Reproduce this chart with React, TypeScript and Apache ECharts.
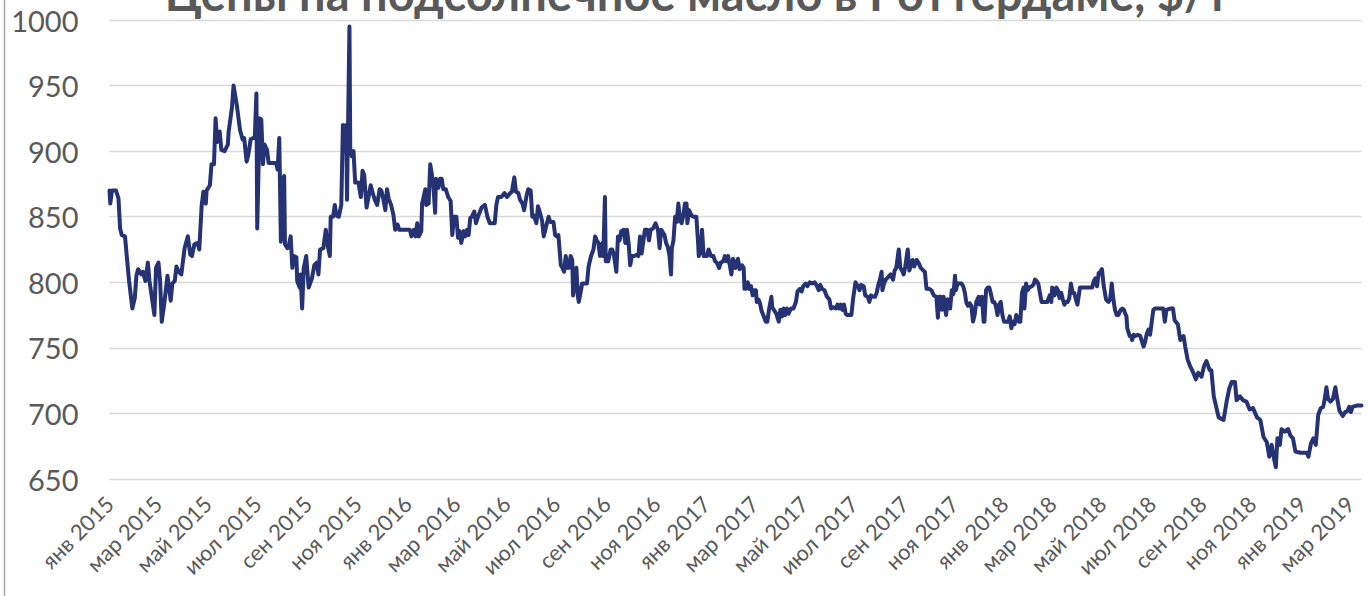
import React, { useEffect, useRef } from "react";
import * as echarts from "echarts";

const chartTitle = "Цены на подсолнечное масло в Роттердаме, $/т";
const axisStart = "2015-01-01";
const axisEnd = "2019-03-15";
const yMin = 650;
const yMax = 1000;
const yStep = 50;
const monthNames = ["янв", "фев", "мар", "апр", "май", "июн", "июл", "авг", "сен", "окт", "ноя", "дек"];
const labelMonths = [1, 3, 5, 7, 9, 11];

const prices2015: [string, number][] = [
  ["2015-01-01", 870], ["2015-01-02", 860], ["2015-01-04", 870], ["2015-01-09", 870], ["2015-01-12", 864],
  ["2015-01-14", 841], ["2015-01-16", 836], ["2015-01-20", 835], ["2015-01-22", 821], ["2015-01-25", 801],
  ["2015-01-29", 780], ["2015-02-01", 788], ["2015-02-03", 805], ["2015-02-05", 810], ["2015-02-09", 806],
  ["2015-02-11", 808], ["2015-02-14", 801], ["2015-02-17", 815], ["2015-02-19", 801], ["2015-02-22", 788],
  ["2015-02-25", 775], ["2015-02-27", 811], ["2015-03-02", 815], ["2015-03-04", 801], ["2015-03-06", 770],
  ["2015-03-09", 783], ["2015-03-13", 805], ["2015-03-15", 796], ["2015-03-17", 786], ["2015-03-19", 799],
  ["2015-03-22", 801], ["2015-03-24", 812], ["2015-03-27", 808], ["2015-03-30", 806], ["2015-04-03", 826],
  ["2015-04-07", 835], ["2015-04-10", 821], ["2015-04-12", 820], ["2015-04-15", 829], ["2015-04-19", 830],
  ["2015-04-21", 825], ["2015-04-24", 859], ["2015-04-26", 869], ["2015-04-29", 860], ["2015-04-30", 870],
  ["2015-05-04", 874], ["2015-05-06", 890], ["2015-05-09", 890], ["2015-05-11", 925], ["2015-05-13", 907],
  ["2015-05-16", 915], ["2015-05-18", 901], ["2015-05-22", 900], ["2015-05-26", 905], ["2015-05-27", 915],
  ["2015-05-31", 933], ["2015-06-02", 950], ["2015-06-06", 935], ["2015-06-10", 916], ["2015-06-13", 909],
  ["2015-06-15", 910], ["2015-06-18", 892], ["2015-06-20", 897], ["2015-06-23", 909], ["2015-06-26", 910],
  ["2015-06-28", 910], ["2015-06-30", 944], ["2015-07-01", 841], ["2015-07-03", 897], ["2015-07-04", 925],
  ["2015-07-06", 924], ["2015-07-08", 890], ["2015-07-10", 905], ["2015-07-13", 901], ["2015-07-15", 891],
  ["2015-07-24", 891], ["2015-07-26", 886], ["2015-07-28", 910], ["2015-07-30", 831], ["2015-08-01", 879],
  ["2015-08-03", 881], ["2015-08-04", 829], ["2015-08-07", 826], ["2015-08-09", 829], ["2015-08-11", 835],
  ["2015-08-13", 811], ["2015-08-15", 820], ["2015-08-18", 819], ["2015-08-19", 801], ["2015-08-22", 796],
  ["2015-08-23", 806], ["2015-08-25", 780], ["2015-08-27", 811], ["2015-08-30", 820], ["2015-09-02", 796],
  ["2015-09-06", 803], ["2015-09-09", 813], ["2015-09-12", 815], ["2015-09-14", 806], ["2015-09-16", 825],
  ["2015-09-20", 826], ["2015-09-23", 840], ["2015-09-25", 829], ["2015-09-28", 820], ["2015-09-29", 850],
  ["2015-10-02", 850], ["2015-10-04", 859], ["2015-10-06", 851], ["2015-10-09", 850], ["2015-10-12", 859],
  ["2015-10-14", 920], ["2015-10-16", 900], ["2015-10-18", 920], ["2015-10-19", 863], ["2015-10-22", 995],
  ["2015-10-23", 901], ["2015-10-25", 896], ["2015-10-27", 900], ["2015-10-29", 876], ["2015-11-02", 876],
  ["2015-11-05", 865], ["2015-11-07", 885], ["2015-11-09", 882], ["2015-11-12", 857], ["2015-11-15", 867],
  ["2015-11-17", 874], ["2015-11-20", 867], ["2015-11-22", 863], ["2015-11-25", 859], ["2015-11-28", 871],
  ["2015-11-30", 870], ["2015-12-02", 865], ["2015-12-05", 855], ["2015-12-07", 871], ["2015-12-09", 864],
  ["2015-12-12", 859], ["2015-12-15", 851], ["2015-12-17", 840], ["2015-12-20", 844], ["2015-12-22", 840],
  ["2015-12-29", 840],
];

const prices2016: [string, number][] = [
  ["2016-01-04", 840], ["2016-01-06", 835], ["2016-01-09", 840], ["2016-01-11", 835], ["2016-01-13", 845],
  ["2016-01-15", 835], ["2016-01-18", 839], ["2016-01-19", 860], ["2016-01-23", 871], ["2016-01-24", 859],
  ["2016-01-27", 860], ["2016-01-29", 890], ["2016-01-31", 882], ["2016-02-02", 872], ["2016-02-04", 853],
  ["2016-02-05", 879], ["2016-02-08", 872], ["2016-02-10", 879], ["2016-02-12", 879], ["2016-02-14", 871],
  ["2016-02-17", 871], ["2016-02-20", 865], ["2016-02-23", 862], ["2016-02-25", 836], ["2016-02-27", 850],
  ["2016-03-01", 850], ["2016-03-03", 834], ["2016-03-05", 839], ["2016-03-07", 830], ["2016-03-10", 839],
  ["2016-03-12", 835], ["2016-03-14", 840], ["2016-03-16", 836], ["2016-03-18", 849], ["2016-03-20", 850],
  ["2016-03-23", 854], ["2016-03-25", 845], ["2016-03-28", 851], ["2016-04-01", 857], ["2016-04-05", 859],
  ["2016-04-08", 850], ["2016-04-11", 845], ["2016-04-17", 845], ["2016-04-19", 859], ["2016-04-21", 865],
  ["2016-04-25", 865], ["2016-04-29", 868], ["2016-05-02", 865], ["2016-05-06", 868], ["2016-05-08", 869],
  ["2016-05-11", 880], ["2016-05-13", 869], ["2016-05-16", 868], ["2016-05-18", 863], ["2016-05-21", 860],
  ["2016-05-23", 855], ["2016-05-26", 866], ["2016-05-28", 871], ["2016-05-31", 870], ["2016-06-02", 850],
  ["2016-06-04", 851], ["2016-06-07", 845], ["2016-06-09", 858], ["2016-06-11", 854], ["2016-06-14", 847],
  ["2016-06-16", 835], ["2016-06-18", 840], ["2016-06-22", 850], ["2016-06-24", 846], ["2016-06-28", 846],
  ["2016-06-30", 836], ["2016-07-02", 835], ["2016-07-04", 836], ["2016-07-07", 813], ["2016-07-09", 811],
  ["2016-07-11", 808], ["2016-07-13", 820], ["2016-07-15", 811], ["2016-07-17", 811], ["2016-07-19", 820],
  ["2016-07-21", 817], ["2016-07-22", 790], ["2016-07-24", 797], ["2016-07-26", 811], ["2016-07-28", 789],
  ["2016-07-29", 785], ["2016-08-01", 795], ["2016-08-02", 799], ["2016-08-08", 799], ["2016-08-10", 812],
  ["2016-08-13", 820], ["2016-08-16", 825], ["2016-08-18", 835], ["2016-08-20", 832], ["2016-08-22", 830],
  ["2016-08-24", 820], ["2016-08-27", 830], ["2016-08-28", 820], ["2016-08-30", 865], ["2016-08-31", 816],
  ["2016-09-03", 816], ["2016-09-06", 825], ["2016-09-08", 825], ["2016-09-10", 821], ["2016-09-13", 808],
  ["2016-09-15", 835], ["2016-09-17", 832], ["2016-09-19", 839], ["2016-09-22", 840], ["2016-09-24", 830],
  ["2016-09-26", 840], ["2016-09-28", 830], ["2016-09-30", 813], ["2016-10-02", 820], ["2016-10-05", 820],
  ["2016-10-08", 821], ["2016-10-10", 820], ["2016-10-12", 835], ["2016-10-14", 822], ["2016-10-16", 831],
  ["2016-10-18", 840], ["2016-10-21", 840], ["2016-10-23", 832], ["2016-10-25", 840], ["2016-10-28", 841],
  ["2016-10-31", 845], ["2016-11-03", 840], ["2016-11-05", 826], ["2016-11-07", 840], ["2016-11-11", 836],
  ["2016-11-13", 830], ["2016-11-15", 827], ["2016-11-17", 821], ["2016-11-19", 806], ["2016-11-20", 826],
  ["2016-11-22", 832], ["2016-11-24", 850], ["2016-11-26", 846], ["2016-11-28", 860], ["2016-11-30", 847],
  ["2016-12-02", 845], ["2016-12-04", 851], ["2016-12-06", 860], ["2016-12-08", 860], ["2016-12-09", 845],
  ["2016-12-11", 855], ["2016-12-14", 851], ["2016-12-16", 850], ["2016-12-20", 850], ["2016-12-22", 832],
  ["2016-12-23", 820], ["2016-12-26", 825], ["2016-12-27", 840], ["2016-12-29", 820],
];

const prices2017: [string, number][] = [
  ["2017-01-02", 820], ["2017-01-04", 825], ["2017-01-07", 820], ["2017-01-10", 820], ["2017-01-12", 816],
  ["2017-01-14", 815], ["2017-01-17", 811], ["2017-01-19", 815], ["2017-01-22", 816], ["2017-01-24", 820],
  ["2017-01-26", 816], ["2017-01-28", 820], ["2017-01-30", 813], ["2017-02-01", 806], ["2017-02-03", 818],
  ["2017-02-06", 811], ["2017-02-09", 818], ["2017-02-11", 810], ["2017-02-14", 813], ["2017-02-16", 811],
  ["2017-02-17", 795], ["2017-02-19", 795], ["2017-02-21", 800], ["2017-02-23", 795], ["2017-02-25", 797],
  ["2017-02-27", 790], ["2017-03-01", 794], ["2017-03-03", 794], ["2017-03-04", 785], ["2017-03-06", 787],
  ["2017-03-08", 784], ["2017-03-10", 778], ["2017-03-12", 775], ["2017-03-15", 770], ["2017-03-17", 770],
  ["2017-03-19", 779], ["2017-03-22", 789], ["2017-03-23", 781], ["2017-03-26", 778], ["2017-03-28", 776],
  ["2017-03-31", 770], ["2017-04-02", 779], ["2017-04-04", 774], ["2017-04-06", 780], ["2017-04-08", 775],
  ["2017-04-10", 780], ["2017-04-12", 776], ["2017-04-15", 780], ["2017-04-18", 780], ["2017-04-21", 785],
  ["2017-04-23", 793], ["2017-04-26", 795], ["2017-04-28", 793], ["2017-04-30", 797], ["2017-05-03", 799],
  ["2017-05-05", 797], ["2017-05-08", 800], ["2017-05-11", 799], ["2017-05-14", 800], ["2017-05-16", 798],
  ["2017-05-19", 794], ["2017-05-21", 798], ["2017-05-23", 795], ["2017-05-26", 794], ["2017-05-29", 789],
  ["2017-06-01", 787], ["2017-06-03", 780], ["2017-06-06", 781], ["2017-06-09", 780], ["2017-06-11", 783],
  ["2017-06-13", 780], ["2017-06-15", 783], ["2017-06-17", 779], ["2017-06-19", 783], ["2017-06-21", 776],
  ["2017-06-23", 775], ["2017-06-28", 775], ["2017-06-30", 787], ["2017-07-03", 800], ["2017-07-06", 797],
  ["2017-07-08", 794], ["2017-07-10", 798], ["2017-07-13", 797], ["2017-07-15", 790], ["2017-07-18", 789],
  ["2017-07-20", 785], ["2017-07-22", 790], ["2017-07-25", 789], ["2017-07-27", 789], ["2017-07-29", 792],
  ["2017-07-31", 798], ["2017-08-02", 802], ["2017-08-04", 808], ["2017-08-05", 794], ["2017-08-07", 799],
  ["2017-08-09", 802], ["2017-08-12", 804], ["2017-08-15", 806], ["2017-08-18", 802], ["2017-08-20", 809],
  ["2017-08-22", 811], ["2017-08-25", 825], ["2017-08-27", 811], ["2017-08-29", 809], ["2017-08-31", 806],
  ["2017-09-02", 812], ["2017-09-05", 825], ["2017-09-07", 809], ["2017-09-09", 813], ["2017-09-11", 817],
  ["2017-09-13", 812], ["2017-09-16", 817], ["2017-09-19", 814], ["2017-09-21", 811], ["2017-09-24", 809],
  ["2017-09-26", 808], ["2017-09-28", 795], ["2017-10-01", 795], ["2017-10-04", 794], ["2017-10-07", 790],
  ["2017-10-10", 789], ["2017-10-12", 773], ["2017-10-13", 789], ["2017-10-16", 789], ["2017-10-17", 779],
  ["2017-10-19", 789], ["2017-10-22", 775], ["2017-10-24", 787], ["2017-10-27", 780], ["2017-10-29", 794],
  ["2017-10-31", 791], ["2017-11-02", 805], ["2017-11-03", 794], ["2017-11-05", 799], ["2017-11-10", 799],
  ["2017-11-12", 797], ["2017-11-14", 792], ["2017-11-16", 784], ["2017-11-18", 782], ["2017-11-20", 784],
  ["2017-11-22", 782], ["2017-11-24", 770], ["2017-11-26", 775], ["2017-11-28", 785], ["2017-12-01", 789],
  ["2017-12-02", 783], ["2017-12-05", 789], ["2017-12-07", 770], ["2017-12-08", 770], ["2017-12-10", 794],
  ["2017-12-12", 796], ["2017-12-14", 796], ["2017-12-16", 791], ["2017-12-18", 785], ["2017-12-20", 785],
  ["2017-12-22", 782], ["2017-12-24", 775], ["2017-12-26", 783], ["2017-12-28", 785], ["2017-12-30", 775],
];

const prices2018: [string, number][] = [
  ["2018-01-01", 770], ["2018-01-06", 770], ["2018-01-08", 774], ["2018-01-10", 765], ["2018-01-12", 770],
  ["2018-01-14", 768], ["2018-01-16", 775], ["2018-01-19", 770], ["2018-01-21", 770], ["2018-01-23", 792],
  ["2018-01-25", 796], ["2018-01-26", 780], ["2018-01-28", 799], ["2018-01-30", 794], ["2018-02-01", 796],
  ["2018-02-04", 797], ["2018-02-06", 798], ["2018-02-08", 802], ["2018-02-10", 801], ["2018-02-12", 799],
  ["2018-02-14", 792], ["2018-02-16", 785], ["2018-02-23", 785], ["2018-02-26", 790], ["2018-02-28", 785],
  ["2018-03-01", 796], ["2018-03-04", 790], ["2018-03-06", 796], ["2018-03-08", 794], ["2018-03-10", 788],
  ["2018-03-12", 792], ["2018-03-14", 787], ["2018-03-16", 783], ["2018-03-18", 785], ["2018-03-20", 785],
  ["2018-03-22", 788], ["2018-03-24", 799], ["2018-03-26", 792], ["2018-03-28", 792], ["2018-03-30", 787],
  ["2018-04-01", 783], ["2018-04-04", 796], ["2018-04-19", 796], ["2018-04-21", 801], ["2018-04-23", 803],
  ["2018-04-25", 797], ["2018-04-27", 807], ["2018-04-29", 808], ["2018-05-01", 810], ["2018-05-03", 798],
  ["2018-05-06", 787], ["2018-05-09", 785], ["2018-05-11", 787], ["2018-05-13", 799], ["2018-05-15", 787],
  ["2018-05-17", 779], ["2018-05-19", 775], ["2018-05-21", 775], ["2018-05-24", 779], ["2018-05-26", 780],
  ["2018-05-28", 779], ["2018-05-29", 777], ["2018-05-31", 774], ["2018-06-01", 765], ["2018-06-04", 759],
  ["2018-06-06", 759], ["2018-06-07", 756], ["2018-06-09", 760], ["2018-06-11", 759], ["2018-06-14", 760],
  ["2018-06-17", 759], ["2018-06-19", 755], ["2018-06-21", 751], ["2018-06-23", 755], ["2018-06-25", 761],
  ["2018-06-27", 764], ["2018-06-29", 760], ["2018-07-01", 770], ["2018-07-03", 779], ["2018-07-05", 780],
  ["2018-07-15", 780], ["2018-07-17", 770], ["2018-07-19", 779], ["2018-07-24", 780], ["2018-07-27", 780],
  ["2018-07-29", 771], ["2018-08-02", 768], ["2018-08-05", 756], ["2018-08-09", 759], ["2018-08-11", 751],
  ["2018-08-14", 741], ["2018-08-17", 736], ["2018-08-21", 731], ["2018-08-24", 726], ["2018-08-27", 731],
  ["2018-08-31", 728], ["2018-09-03", 736], ["2018-09-06", 740], ["2018-09-10", 733], ["2018-09-12", 733],
  ["2018-09-15", 713], ["2018-09-21", 697], ["2018-09-27", 695], ["2018-10-01", 710], ["2018-10-04", 719],
  ["2018-10-07", 724], ["2018-10-11", 724], ["2018-10-13", 710], ["2018-10-17", 713], ["2018-10-21", 710],
  ["2018-10-25", 709], ["2018-10-29", 703], ["2018-11-02", 704], ["2018-11-07", 697], ["2018-11-11", 695],
  ["2018-11-15", 682], ["2018-11-19", 678], ["2018-11-22", 667], ["2018-11-25", 676], ["2018-11-27", 668],
  ["2018-11-30", 659], ["2018-12-02", 681], ["2018-12-05", 676], ["2018-12-07", 688], ["2018-12-11", 686],
  ["2018-12-15", 688], ["2018-12-18", 683], ["2018-12-21", 681], ["2018-12-24", 671], ["2018-12-30", 670],
];

const prices2019: [string, number][] = [
  ["2019-01-07", 670], ["2019-01-09", 667], ["2019-01-12", 677], ["2019-01-15", 681], ["2019-01-18", 676],
  ["2019-01-21", 699], ["2019-01-24", 704], ["2019-01-27", 705], ["2019-01-29", 711], ["2019-01-31", 720],
  ["2019-02-02", 711], ["2019-02-05", 709], ["2019-02-08", 711], ["2019-02-11", 720], ["2019-02-13", 712],
  ["2019-02-16", 702], ["2019-02-20", 698], ["2019-02-23", 701], ["2019-02-26", 702], ["2019-02-28", 705],
  ["2019-03-02", 701], ["2019-03-04", 705], ["2019-03-09", 706], ["2019-03-15", 706],
];

function buildDays(start: string, end: string): string[] {
  const out: string[] = [];
  const d = new Date(start + "T00:00:00Z");
  const e = new Date(end + "T00:00:00Z");
  while (d.getTime() <= e.getTime()) {
    out.push(d.toISOString().slice(0, 10));
    d.setUTCDate(d.getUTCDate() + 1);
  }
  return out;
}

export default function App() {
  const ref = useRef<HTMLDivElement>(null);

  useEffect(() => {
    if (!ref.current) return;
    const chart = echarts.init(ref.current, undefined, { renderer: "svg" });
    const days = buildDays(axisStart, axisEnd);
    const index = new Map<string, number>();
    days.forEach((d, i) => index.set(d, i));
    const all = [...prices2015, ...prices2016, ...prices2017, ...prices2018, ...prices2019];
    const seriesData = all
      .filter(([d]) => index.has(d))
      .map(([d, v]) => [index.get(d) as number, v]);

    const font = "Lato, 'DejaVu Sans', sans-serif";
    chart.setOption({
      animation: false,
      backgroundColor: "#ffffff",
      grid: { left: 109.5, right: 7.5, top: 20, bottom: 117, containLabel: false },
      graphic: [
        {
          type: "line",
          shape: { x1: 4.5, y1: 0, x2: 4.5, y2: 596 },
          style: { stroke: "#a6a6a6", lineWidth: 1.5 },
          silent: true,
        },
        {
          type: "text",
          x: 697,
          y: 16,
          style: {
            text: chartTitle,
            fill: "#595959",
            font: "bold 47px " + font,
            textAlign: "center",
            textVerticalAlign: "bottom",
          },
          silent: true,
        },
      ],
      xAxis: {
        type: "category",
        data: days,
        boundaryGap: false,
        axisLine: { show: false },
        axisTick: { show: false },
        splitLine: { show: false },
        axisLabel: {
          interval: (_i: number, v: string) =>
            v.slice(8, 10) === "01" && labelMonths.includes(Number(v.slice(5, 7))),
          formatter: (v: string) => monthNames[Number(v.slice(5, 7)) - 1] + " " + v.slice(0, 4),
          rotate: 45,
          margin: 21,
          color: "#595959",
          fontSize: 22,
          fontFamily: font,
        },
      },
      yAxis: {
        type: "value",
        min: yMin,
        max: yMax,
        interval: yStep,
        axisLine: { show: false },
        axisTick: { show: false },
        axisLabel: {
          color: "#595959",
          fontSize: 29,
          fontFamily: font,
          margin: 31,
          formatter: (v: number) => String(v),
        },
        splitLine: { lineStyle: { color: "#d9d9d9", width: 1.3 } },
      },
      series: [
        {
          type: "line",
          data: seriesData,
          showSymbol: false,
          symbol: "none",
          lineStyle: { color: "#253274", width: 4, cap: "round", join: "round" },
          silent: true,
        },
      ],
    });
    return () => chart.dispose();
  }, []);

  return (
    <div
      ref={ref}
      style={{ position: "absolute", left: 0, top: 0, width: "1369px", height: "596px" }}
    />
  );
}
